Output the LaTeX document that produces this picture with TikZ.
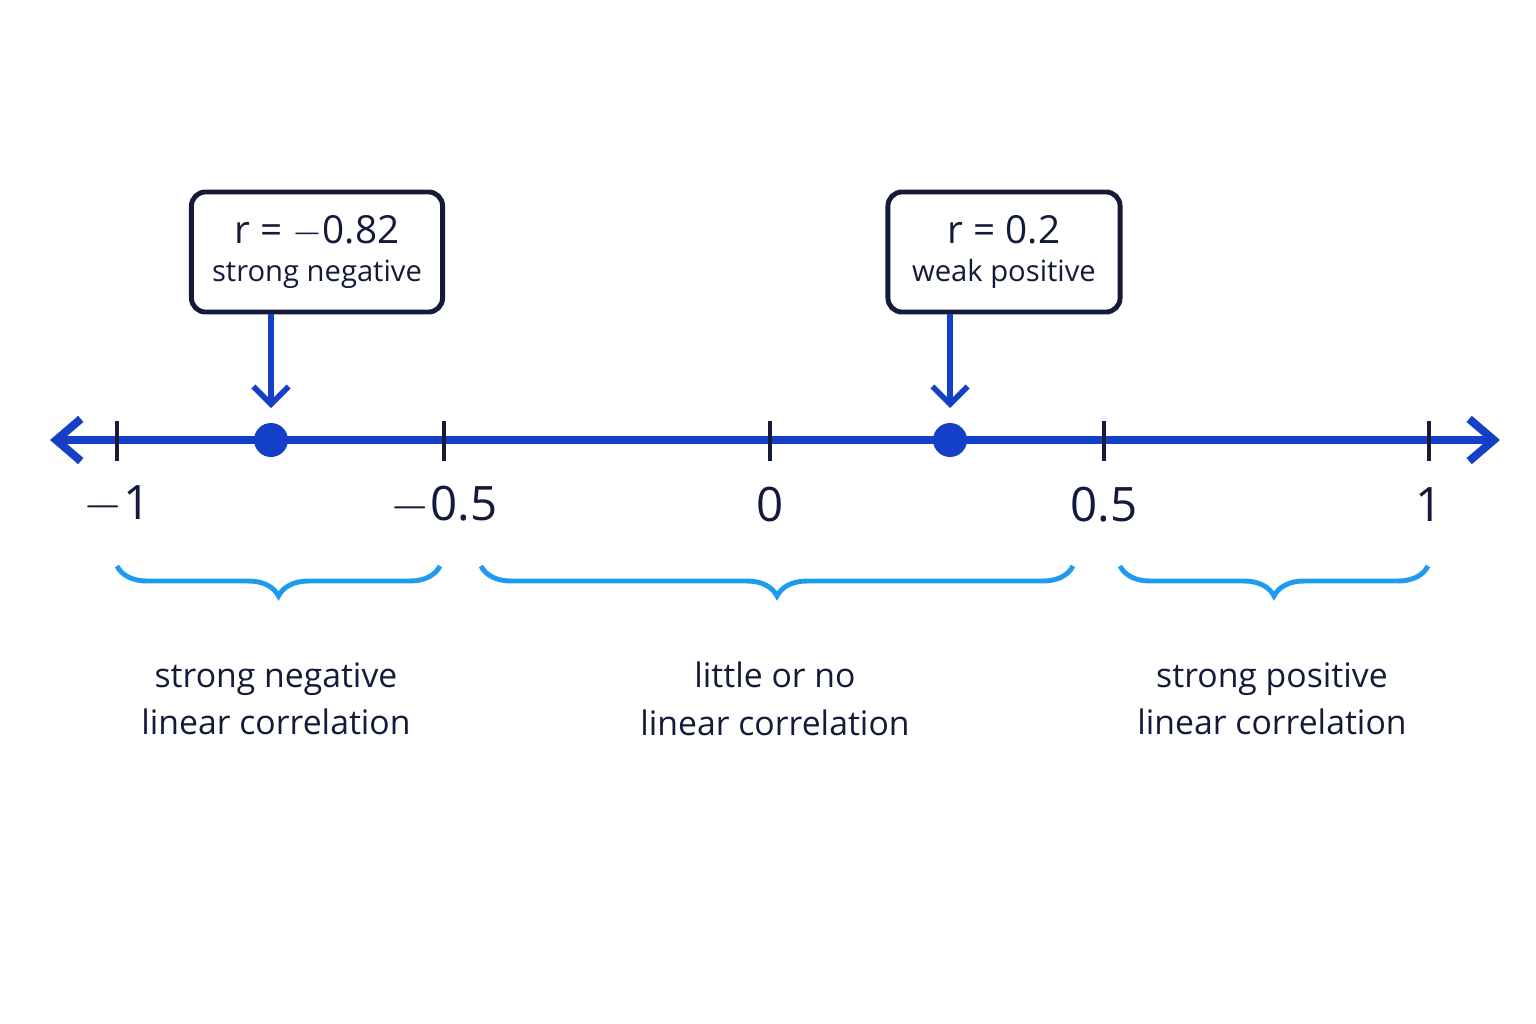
\documentclass[tikz,border=0pt]{standalone}
\usepackage{fontspec}
\setmainfont{Open Sans}
\usetikzlibrary{positioning, arrows.meta, decorations.pathreplacing}
\definecolor{axisblue}{HTML}{1440C8}
\definecolor{bracecol}{HTML}{1E9BF0}
\definecolor{inkdark}{HTML}{141B3A}
\begin{document}
\begin{tikzpicture}
	[x=0.01cm, y=-0.01cm, on grid, node distance=0.47cm,
	 tick/.style={draw=inkdark, line width=1.4pt},
	 num/.style={font=\fontsize{13.5}{15}\selectfont, text=inkdark},
	 box/.style={draw=inkdark, line width=1.4pt, rounded corners=4pt, fill=white, minimum width=2.5cm, minimum height=1.2cm, align=center, text=inkdark},
	 brc/.style={draw=bracecol, line width=1.4pt, decorate, decoration={brace, mirror, amplitude=0.3cm}},
	 lbl/.style={font=\fontsize{9.6}{13.5}\selectfont, text=inkdark, align=center}]
   \useasboundingbox (0,0) rectangle (1536,1024);
   \coordinate (a_l) at (50,440);
   \coordinate (a_r) at (1500,440);
   \draw[axisblue, line width=2.3pt, {Straight Barb[length=7pt,width=12pt]}-{Straight Barb[length=7pt,width=12pt]}] (a_l) -- (a_r);
   % ticks and values
   \foreach \x/\v [count=\i] in {117/$-$1, 444/$-$0.5, 770/0, 1104/0.5, 1429/1} {
      \draw[tick] (\x,421) -- (\x,461);
      \node[num] (v_\i) at (\x,505) {\v};
   }
   \fill[axisblue] (271,440) circle (17);
   \fill[axisblue] (950,440) circle (17);
   % callouts
   \node[box, minimum width=2.51cm] (b_1) at (317,252) {{\fontsize{11}{13}\selectfont r = $-$0.82}\\[-1pt]{\fontsize{8.3}{10}\selectfont strong negative}};
   \node[box, minimum width=2.32cm] (b_2) at (1004,252) {{\fontsize{11}{13}\selectfont r = 0.2}\\[-1pt]{\fontsize{8.3}{10}\selectfont weak positive}};
   \coordinate (p_1) at (271,408);
   \coordinate (p_2) at (950,408);
   \draw[axisblue, line width=1.6pt, -{Straight Barb[length=5pt,width=10pt]}] (b_1.south -| p_1) -- (p_1);
   \draw[axisblue, line width=1.6pt, -{Straight Barb[length=5pt,width=10pt]}] (b_2.south -| p_2) -- (p_2);
   % braces
   \draw[brc] (117,566) -- (440,566);
   \draw[brc] (481,566) -- (1073,566);
   \draw[brc] (1120,566) -- (1428,566);
   \node[lbl] (l_1) at (276,699) {strong negative\\linear correlation};
   \node[lbl] (l_2) at (775,699) {little or no\\linear correlation};
   \node[lbl] (l_3) at (1272,699) {strong positive\\linear correlation};
\end{tikzpicture}
\end{document}
